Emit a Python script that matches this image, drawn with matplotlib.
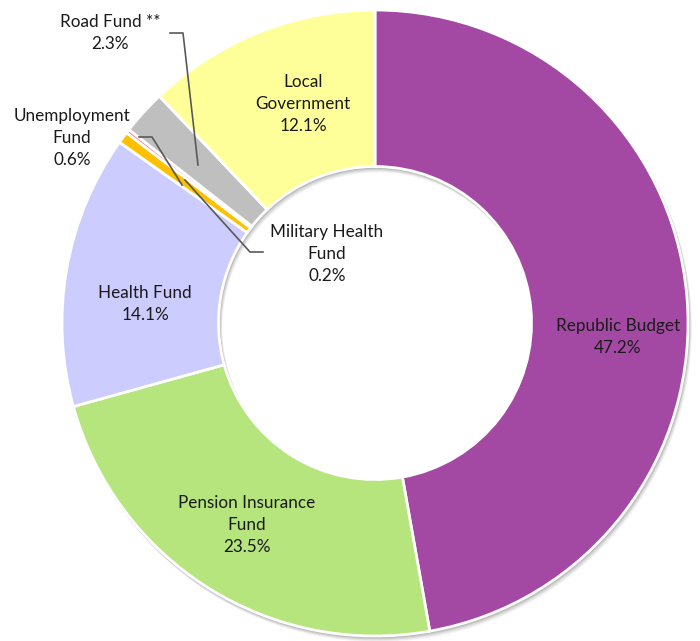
import matplotlib.pyplot as plt
import numpy as np

# shares of the budget, %
names = ["Republic Budget", "Pension Insurance\nFund", "Health Fund",
         "Unemployment\nFund", "Military Health\nFund", "Road Fund **",
         "Local\nGovernment"]
shares = [47.2, 23.5, 14.1, 0.6, 0.2, 2.3, 12.1]
colors = ["#A349A4", "#B5E57C", "#CCCCFF", "#FFC000", "#FF7C80", "#BFBFBF", "#FFFF99"]

plt.rcParams['font.family'] = ['Lato', 'DejaVu Sans']

fig = plt.figure(figsize=(7, 6.41), dpi=100)
ax = fig.add_axes([0, 0, 1, 1])

cx, cy, R = 375, 318, 313
ring = 0.5

# soft drop shadow (ring offset to bottom right)
for k, a in enumerate([0.04, 0.05, 0.06, 0.08, 0.09]):
    off = 5 - k
    ax.pie(shares, center=(cx + off * 0.6, cy - off), radius=R + 1,
           startangle=90, counterclock=False, colors=['#000000'] * len(shares),
           wedgeprops=dict(width=R * ring + 2, alpha=a, linewidth=0),
           frame=True)

wedges, _ = ax.pie(shares, center=(cx, cy), radius=R, startangle=90,
                   counterclock=False, colors=colors,
                   wedgeprops=dict(width=R * ring, edgecolor='white', linewidth=2),
                   frame=True)
ax.set_xlim(0, 700)
ax.set_ylim(0, 641)
ax.set_aspect('equal')
ax.axis('off')

H = 641
# label text and its position (image pixel coords)
label_pos = [(618, 337), (247, 525), (145, 304), (72, 138), (327, 254), (110, 33), (303, 104)]
for name, s, (x, y) in zip(names, shares, label_pos):
    ax.text(x, H - y, f"{name}\n{s}%", ha='center', va='center',
            fontsize=12.3, color='#1a1a1a', linespacing=1.45)

# leader lines
lc = '#595959'
ax.plot([170, 183, 198], [H - 33, H - 33, H - 165], color=lc, lw=1.2)
ax.plot([139, 152, 182], [H - 137, H - 137, H - 185], color=lc, lw=1.2)
ax.plot([263, 250, 185], [H - 252, H - 252, H - 180], color=lc, lw=1.2)

fig.savefig("out.png", dpi=100)
